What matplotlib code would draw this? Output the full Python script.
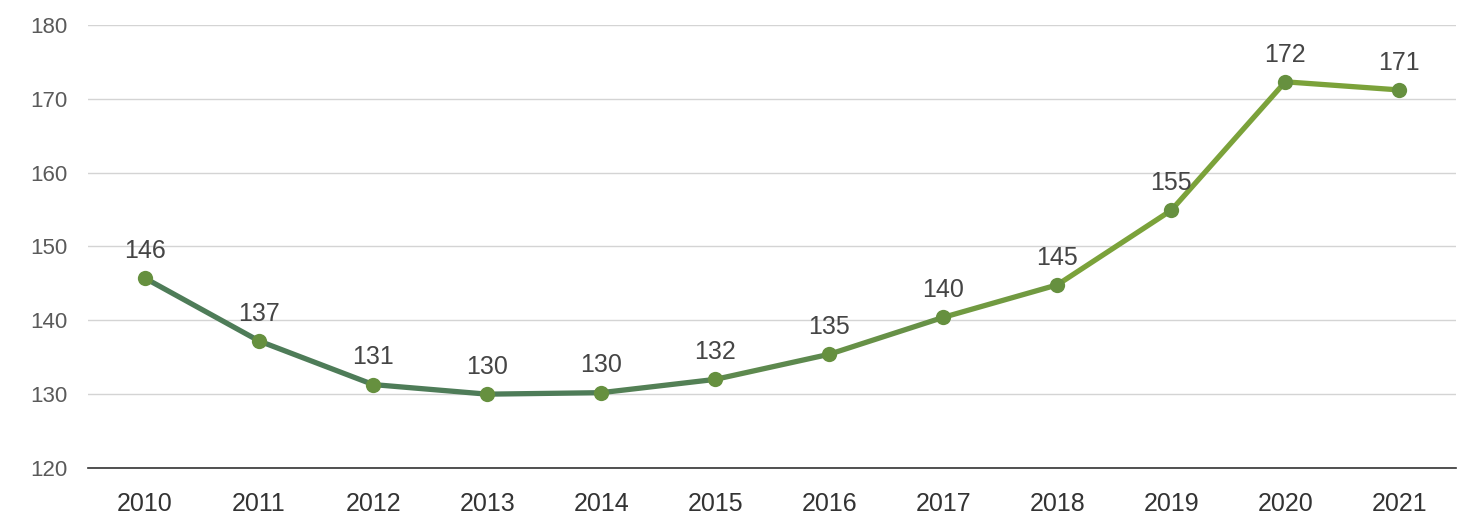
import matplotlib
matplotlib.use("Agg")
import matplotlib.pyplot as plt
import matplotlib.colors as mcolors
import numpy as np

# data
years = ["2010", "2011", "2012", "2013", "2014", "2015",
         "2016", "2017", "2018", "2019", "2020", "2021"]
values = [145.7, 137.2, 131.3, 130.0, 130.2, 132.0,
          135.4, 140.4, 144.8, 154.9, 172.3, 171.2]
labels = ["146", "137", "131", "130", "130", "132",
          "135", "140", "145", "155", "172", "171"]

DARK = "#4e7c58"
LIGHT = "#7ba23a"
GRID = "#d4d4d4"

plt.rcParams.update({
    "font.family": ["Liberation Sans", "DejaVu Sans"],
    "font.size": 15,
})

fig = plt.figure(figsize=(14.8, 5.2), dpi=100)
ax = fig.add_axes([0.0595, 0.1, 0.9245, 0.852])

x = np.arange(len(years))
dark = np.array(mcolors.to_rgb(DARK))
light = np.array(mcolors.to_rgb(LIGHT))

# line drawn segment by segment, blending dark -> light green
for i in range(len(x) - 1):
    t = min(max((i - 3.5) / 4.5, 0), 1)
    c = dark * (1 - t) + light * t
    ax.plot(x[i:i + 2], values[i:i + 2], color=c, linewidth=3.8,
            solid_capstyle="round", zorder=3)

for i in range(len(x)):
    ax.plot(x[i], values[i], marker="o", markersize=11,
            color="#66903f", markeredgewidth=0, zorder=4)
    ax.annotate(labels[i], xy=(x[i], values[i]), xytext=(0, 11),
                textcoords="offset points", ha="center", va="bottom",
                fontsize=18, color="#454545", zorder=5)

ax.set_xlim(-0.5, len(years) - 0.5)
ax.set_ylim(120, 180)
ax.set_yticks([120, 130, 140, 150, 160, 170, 180])
ax.set_xticks(x)
ax.set_xticklabels(years)

ax.grid(axis="y", color=GRID, linewidth=1)
ax.set_axisbelow(True)
for s in ["top", "right", "left"]:
    ax.spines[s].set_visible(False)
ax.spines["bottom"].set_color("#333333")
ax.spines["bottom"].set_linewidth(1.2)
ax.spines["bottom"].set_zorder(2)

ax.tick_params(axis="y", length=0, pad=15, labelsize=16, labelcolor="#5a5a5a")
ax.tick_params(axis="x", length=0, pad=17, labelsize=18, labelcolor="#333333")

fig.savefig("out.png", dpi=100)
